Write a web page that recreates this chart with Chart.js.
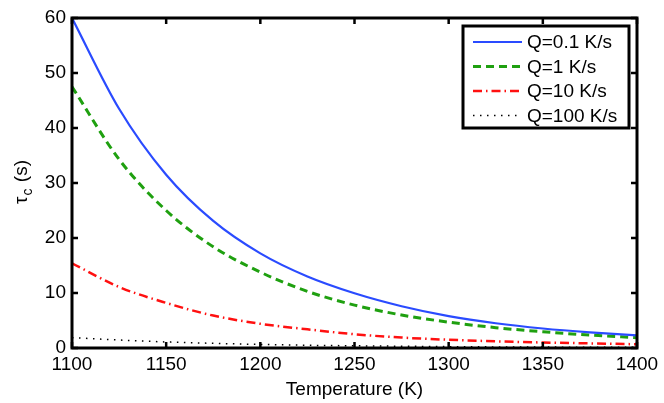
<!DOCTYPE html>
<html>
<head>
<meta charset="utf-8">
<script src="https://cdn.jsdelivr.net/npm/chart.js@4.4.0/dist/chart.umd.min.js"></script>
<style>
  html, body { margin: 0; padding: 0; background: #fff; }
  #wrap { position: relative; width: 664px; height: 403px; }
</style>
</head>
<body>
<div id="wrap"><canvas id="c"></canvas></div>
<script>
// temperatures (K) and tau_c (s)
const temps = [1100, 1125, 1150, 1175, 1200, 1225, 1250, 1275, 1300, 1325, 1350, 1375, 1400];
const q01 = [60, 43.5, 31.5, 23.1, 17.2, 13.0, 9.95, 7.6, 5.8, 4.5, 3.55, 2.85, 2.3];
const q1 = [47.5, 34.3, 25.0, 18.4, 13.8, 10.3, 7.8, 6.0, 4.7, 3.7, 2.95, 2.35, 1.88];
const q10 = [15.4, 11.1, 8.2, 5.9, 4.4, 3.4, 2.5, 1.9, 1.5, 1.22, 1.0, 0.84, 0.68];
const q100 = [1.9, 1.45, 1.1, 0.85, 0.65, 0.5, 0.4, 0.32, 0.25, 0.2, 0.17, 0.14, 0.12];
const labels = ["Q=0.1 K/s", "Q=1 K/s", "Q=10 K/s", "Q=100 K/s"];
const xTicks = [1100, 1150, 1200, 1250, 1300, 1350, 1400];
const yTicks = [0, 10, 20, 30, 40, 50, 60];

const FONT = '"Liberation Sans", Arial, Helvetica, sans-serif';
const FS = 19;

const pts = (vals) => temps.map((t, i) => ({ x: t, y: vals[i] }));

// frame, inward ticks on all four sides, boxed legend, y title with subscript
const matlabAxes = {
  id: "matlabAxes",
  afterDatasetsDraw(chart) {
    const { ctx, chartArea: a, scales } = chart;
    ctx.save();
    ctx.strokeStyle = "#000";
    ctx.lineWidth = 2.5;
    const tl = 6;
    ctx.beginPath();
    xTicks.forEach((v) => {
      const px = scales.x.getPixelForValue(v);
      ctx.moveTo(px, a.bottom); ctx.lineTo(px, a.bottom - tl);
      ctx.moveTo(px, a.top); ctx.lineTo(px, a.top + tl);
    });
    yTicks.forEach((v) => {
      const py = scales.y.getPixelForValue(v);
      ctx.moveTo(a.left, py); ctx.lineTo(a.left + tl, py);
      ctx.moveTo(a.right, py); ctx.lineTo(a.right - tl, py);
    });
    ctx.stroke();
    ctx.lineWidth = 3;
    ctx.strokeRect(a.left, a.top, a.right - a.left, a.bottom - a.top);

    // legend box
    const bx = a.right - 174, by = a.top + 8, bw = 166, bh = 102;
    ctx.fillStyle = "#fff";
    ctx.fillRect(bx, by, bw, bh);
    ctx.strokeRect(bx, by, bw, bh);
    ctx.font = FS + "px " + FONT;
    ctx.textBaseline = "middle";
    ctx.textAlign = "left";
    chart.data.datasets.forEach((ds, i) => {
      const ly = by + 16 + i * 24.5;
      ctx.save();
      ctx.strokeStyle = ds.borderColor;
      ctx.lineWidth = ds.borderWidth;
      ctx.setLineDash(ds.borderDash || []);
      ctx.beginPath();
      ctx.moveTo(bx + 10, ly);
      ctx.lineTo(bx + 59, ly);
      ctx.stroke();
      ctx.restore();
      ctx.fillStyle = "#000";
      ctx.fillText(ds.label, bx + 64, ly + 1);
    });

    // y axis title: tau_c (s)
    ctx.save();
    ctx.translate(21, (a.top + a.bottom) / 2);
    ctx.rotate(-Math.PI / 2);
    ctx.fillStyle = "#000";
    ctx.textBaseline = "alphabetic";
    const big = FS + "px " + FONT, small = "14px " + FONT;
    ctx.font = big;
    const w1 = ctx.measureText("\u03c4").width;
    const w3 = ctx.measureText(" (s)").width;
    ctx.font = small;
    const w2 = ctx.measureText("c").width;
    let x0 = -(w1 + w2 + w3) / 2;
    ctx.font = big;
    ctx.fillText("\u03c4", x0, 6);
    ctx.font = small;
    ctx.fillText("c", x0 + w1 + 1, 11);
    ctx.font = big;
    ctx.fillText(" (s)", x0 + w1 + w2 + 2, 6);
    ctx.restore();
    ctx.restore();
  },
};

const line = (label, vals, color, width, dash) => ({
  label,
  data: pts(vals),
  borderColor: color,
  borderWidth: width,
  borderDash: dash,
  pointRadius: 0,
  fill: false,
  cubicInterpolationMode: "monotone",
});

new Chart(document.getElementById("c"), {
  type: "line",
  data: {
    datasets: [
      line(labels[0], q01, "#2a4bff", 2.2, []),
      line(labels[1], q1, "#1fa010", 3, [8, 5]),
      line(labels[2], q10, "#ff1010", 2.5, [9, 4, 1.5, 4]),
      line(labels[3], q100, "#000", 1.5, [1.5, 5.5]),
    ],
  },
  options: {
    responsive: true,
    maintainAspectRatio: false,
    animation: false,
    layout: { padding: { left: 0, top: 18, right: 27, bottom: 0 } },
    plugins: {
      legend: { display: false },
      tooltip: { enabled: false },
    },
    scales: {
      x: {
        type: "linear",
        min: 1100,
        max: 1400,
        afterBuildTicks: (s) => { s.ticks = xTicks.map((v) => ({ value: v })); },
        afterFit: (s) => { s.height = 55; },
        grid: { display: false, drawTicks: false },
        border: { display: false },
        ticks: {
          color: "#000",
          padding: 5,
          font: { family: FONT, size: FS },
          callback: (v) => String(v),
        },
        title: {
          display: true,
          text: "Temperature (K)",
          color: "#000",
          padding: { top: 0, bottom: 2 },
          font: { family: FONT, size: FS },
        },
      },
      y: {
        min: 0,
        max: 60,
        afterBuildTicks: (s) => { s.ticks = yTicks.map((v) => ({ value: v })); },
        afterFit: (s) => { s.width = 72; },
        grid: { display: false, drawTicks: false },
        border: { display: false },
        ticks: {
          color: "#000",
          padding: 6,
          font: { family: FONT, size: FS },
          callback: (v) => String(v),
        },
      },
    },
  },
  plugins: [matlabAxes],
});
</script>
</body>
</html>
